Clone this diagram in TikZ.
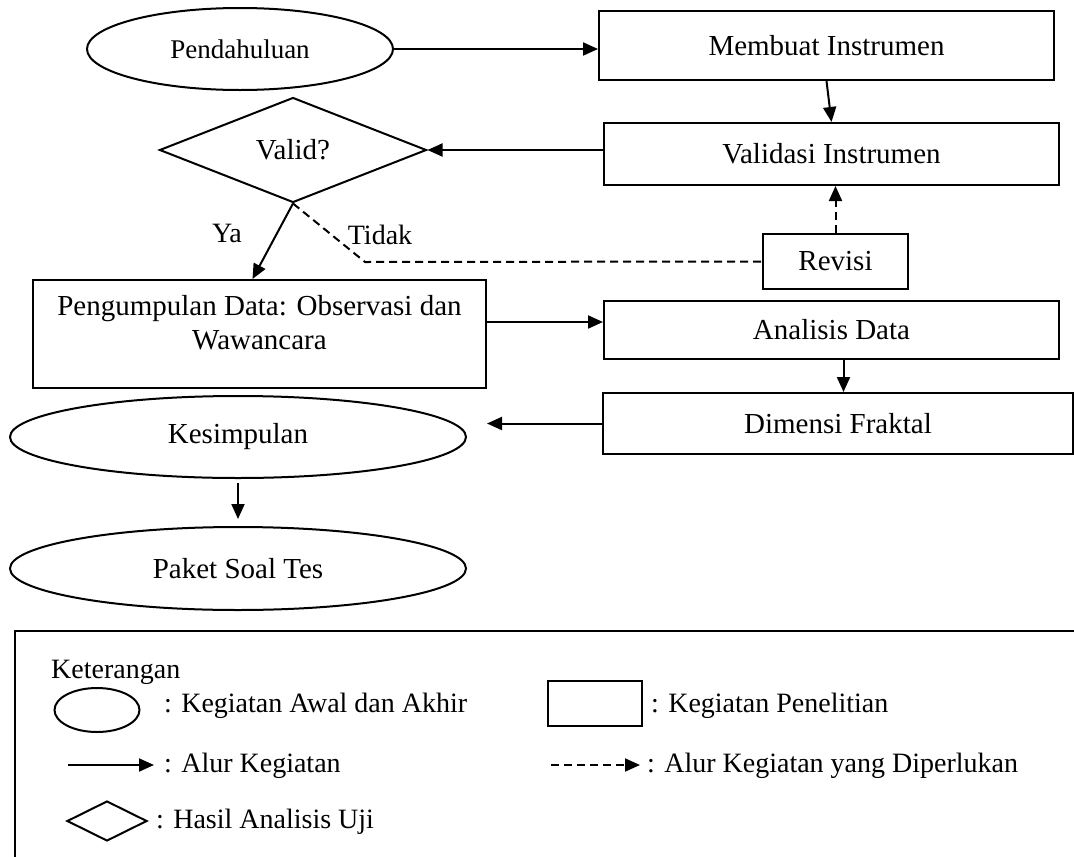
\documentclass[tikz,border=0pt]{standalone}
\usepackage{fontspec}
\setmainfont{Liberation Serif}
\usetikzlibrary{shapes.geometric,arrows.meta}

\tikzset{
    kotak/.style={draw, rectangle, line width=2pt, inner sep=4pt, font=\fontsize{29}{34}\selectfont},
    lonjong/.style={draw, ellipse, line width=2pt, inner sep=0pt, font=\fontsize{29}{34}\selectfont},
    belah/.style={draw, diamond, line width=2pt, inner sep=0pt, font=\fontsize{29}{34}\selectfont},
    panah/.style={line width=2pt, -{Triangle[length=15pt,width=13pt]}},
    putus/.style={panah, dash pattern=on 8pt off 5pt},
    teks/.style={anchor=west, inner sep=0pt, font=\fontsize{28}{33}\selectfont}
}

\begin{document}
\begin{tikzpicture}[x=1pt, y=-1pt]
    \useasboundingbox (0,0) rectangle (1074,857);

    % Simpul
    \node[lonjong, minimum width=306pt, minimum height=82pt, font=\fontsize{27}{32}\selectfont] (pendahuluan) at (240,49) {Pendahuluan};
    \node[kotak, minimum width=455pt, minimum height=69pt] (membuat) at (826.5,45.5) {Membuat Instrumen};
    \node[kotak, minimum width=455pt, minimum height=62pt] (validasi) at (831.5,154) {Validasi Instrumen};
    \node[belah, minimum width=267pt, minimum height=105pt] (valid) at (293,150) {Valid?};
    \node[kotak, minimum width=145pt, minimum height=55pt] (revisi) at (835.5,261.5) {Revisi};
    \node[kotak, minimum width=453pt, minimum height=108pt, align=center, text depth=23pt] (pengumpulan) at (259.5,334) {Pengumpulan Data: Observasi dan\\Wawancara};
    \node[kotak, minimum width=455pt, minimum height=58pt] (analisis) at (831.5,330) {Analisis Data};
    \node[kotak, minimum width=470pt, minimum height=61pt] (dimensi) at (838,423.5) {Dimensi Fraktal};
    \node[lonjong, minimum width=456pt, minimum height=82pt] (kesimpulan) at (238,437) {Kesimpulan};
    \node[lonjong, minimum width=456pt, minimum height=83pt] (paket) at (238,568.5) {Paket Soal Tes};

    % Label cabang
    \node[font=\fontsize{28}{33}\selectfont] (ya) at (227,233) {Ya};
    \node[font=\fontsize{28}{33}\selectfont] (tidak) at (380,235) {Tidak};
    \coordinate (belok) at (365,262);

    % Alur
    \draw[panah] (pendahuluan.east) -- (pendahuluan.east -| membuat.west);
    \draw[panah] (membuat.south) -- (validasi.north);
    \draw[panah] (validasi.west |- valid.east) -- (valid.east);
    \draw[panah] (valid.south) -- ([xshift=-7pt]pengumpulan.north);
    \draw[line width=2pt, dash pattern=on 8pt off 5pt] (valid.south) -- (belok) -- (revisi.west);
    \draw[putus] (revisi.north) -- (revisi.north |- validasi.south);
    \draw[panah] ([yshift=12pt]pengumpulan.east) -- ([yshift=12pt]pengumpulan.east -| analisis.west);
    \draw[panah] ([xshift=12pt]analisis.south) -- ([xshift=12pt]analisis.south |- dimensi.north);
    \draw[panah, shorten >=20pt] (dimensi.west) -- (dimensi.west -| kesimpulan.east);
    \draw[panah, shorten <=4pt, shorten >=7pt] (kesimpulan.south) -- (paket.north);

    % Keterangan
    \draw[line width=1.4pt] (15,857) -- (15,631) -- (1074,631);
    \node[teks] (keterangan) at (51,672) {Keterangan};

    \node[lonjong, minimum width=85pt, minimum height=44pt] (kLonjong) at (97,710) {};
    \node[teks] (tLonjong) at (164,706) {: Kegiatan Awal dan Akhir};

    \node[kotak, minimum width=94pt, minimum height=45pt] (kKotak) at (595,703.5) {};
    \node[teks] (tKotak) at (651,706) {: Kegiatan Penelitian};

    \coordinate (aAwal) at (68,765);
    \coordinate (aAkhir) at (154,765);
    \draw[panah] (aAwal) -- (aAkhir);
    \node[teks] (tPanah) at (164,766) {: Alur Kegiatan};

    \coordinate (pAwal) at (551,765);
    \coordinate (pAkhir) at (640,765);
    \draw[putus] (pAwal) -- (pAkhir);
    \node[teks] (tPutus) at (647,766) {: Alur Kegiatan yang Diperlukan};

    \node[belah, minimum width=80pt, minimum height=40pt] (kBelah) at (107,821) {};
    \node[teks] (tBelah) at (156,822) {: Hasil Analisis Uji};
\end{tikzpicture}
\end{document}
